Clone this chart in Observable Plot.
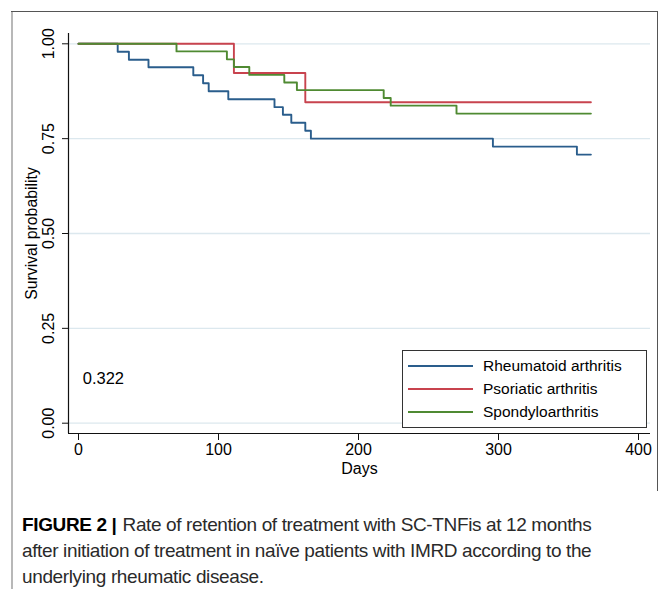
<!DOCTYPE html>
<html><head><meta charset="utf-8">
<script src="https://cdn.jsdelivr.net/npm/d3@7"></script>
<script src="https://cdn.jsdelivr.net/npm/@observablehq/plot@0.6"></script>
<style>
body{margin:0;background:#fff;}
#wrap{position:relative;width:663px;height:589px;overflow:hidden;font-family:"Liberation Sans",Arial,sans-serif;background:#fff;}
#chart{position:absolute;left:0;top:0;}
#frameLeft{position:absolute;left:11px;top:11px;width:2px;height:578px;background:#b8b8b8;}
#frameTop{position:absolute;left:11px;top:11px;width:647px;height:1px;background:#555;}
#frameRight{position:absolute;left:657px;top:11px;width:1px;height:480px;background:#555;}
#legend{position:absolute;left:402px;top:350px;width:243px;height:76px;border:1px solid #333;background:#fff;}
.lrow{position:absolute;left:0;height:22px;display:flex;align-items:center;}
.lline{width:65px;height:1.5px;margin-left:5px;margin-right:10px;}
.ltext{font-size:15.5px;color:#000;}
#caption{position:absolute;left:22px;top:512px;width:636px;font-family:"Liberation Sans",Arial,sans-serif;font-size:19px;letter-spacing:-0.37px;line-height:26px;color:#2a2a2a;white-space:nowrap;}
#caption b{color:#000;display:inline-block;margin-right:6px;}
</style></head><body>
<div id="wrap">
  <div id="chart"></div>
  <div id="legend"></div>
  <div id="frameLeft"></div><div id="frameTop"></div><div id="frameRight"></div>
  <div id="caption"><b>FIGURE 2 |</b>Rate of retention of treatment with SC-TNFis at 12 months<br>after initiation of treatment in naïve patients with IMRD according to the<br>underlying rheumatic disease.</div>
</div>
<script>
const groups = ["Rheumatoid arthritis", "Psoriatic arthritis", "Spondyloarthritis"];
const colors = ["#2a5d8c", "#c8434e", "#4f8a32"];

const raDays  = [0, 28, 36, 50, 82, 89, 93, 107, 140, 146, 152, 162, 166, 296, 356, 366];
const raSurv  = [1, 0.979, 0.958, 0.938, 0.917, 0.896, 0.875, 0.854, 0.833, 0.813, 0.792, 0.771, 0.750, 0.729, 0.708, 0.708];
const psaDays = [0, 111, 162, 366];
const psaSurv = [1, 0.923, 0.846, 0.846];
const spaDays = [0, 70, 106, 111, 122, 147, 156, 218, 223, 270, 366];
const spaSurv = [1, 0.980, 0.959, 0.939, 0.918, 0.898, 0.878, 0.857, 0.837, 0.816, 0.816];

const xTicks = [0, 100, 200, 300, 400];
const yTicks = [0, 0.25, 0.5, 0.75, 1];
const pValueText = "0.322";
const pValueDay = 3;
const pValueSurv = 0.118;

const series = [
  {name: groups[0], days: raDays, surv: raSurv},
  {name: groups[1], days: psaDays, surv: psaSurv},
  {name: groups[2], days: spaDays, surv: spaSurv}
];
const rows = series.flatMap(s => s.days.map((d, i) => ({group: s.name, day: d, surv: s.surv[i]})));

const fmt = d3.format(".2f");
const plot = Plot.plot({
  width: 663,
  height: 482,
  marginLeft: 68, marginRight: 13, marginTop: 33, marginBottom: 49,
  x: {domain: [0, 400], range: [78, 638]},
  y: {domain: [0, 1], range: [422.7, 43.3]},
  color: {domain: groups, range: colors},
  style: {fontFamily: "'Liberation Sans', Arial, sans-serif", fontSize: "16px", color: "#000", background: "transparent"},
  marks: [
    Plot.gridY(yTicks, {stroke: "#dce8ee", strokeOpacity: 1, strokeWidth: 1.3}),
    Plot.ruleY([0], {dy: 10.3, stroke: "#111", strokeWidth: 1.2}),
    Plot.ruleX([0], {dx: -10, stroke: "#111", strokeWidth: 1.2}),
    Plot.axisX(xTicks, {tickSize: 7, tickPadding: 3, fontSize: 16, label: null, stroke: "#111"}),
    Plot.axisY(yTicks, {tickSize: 6, tickFormat: () => "", label: null, stroke: "#111"}),
    Plot.text(yTicks, {y: d => d, text: d => fmt(d), frameAnchor: "left", textAnchor: "middle", dx: -20, rotate: -90, fontSize: 16}),
    Plot.text(["Survival probability"], {frameAnchor: "left", textAnchor: "middle", dx: -37, rotate: -90, fontSize: 15.8}),
    Plot.text(["Days"], {frameAnchor: "bottom", textAnchor: "middle", dy: 40, fontSize: 16}),
    Plot.line(rows, {x: "day", y: "surv", z: "group", stroke: "group", curve: "step-after", strokeWidth: 1.9}),
    Plot.text([{t: pValueText, x: pValueDay, y: pValueSurv}], {x: "x", y: "y", text: "t", textAnchor: "start", fontSize: 16.5})
  ]
});
document.getElementById("chart").appendChild(plot);

const legend = document.getElementById("legend");
groups.forEach((g, i) => {
  const row = document.createElement("div");
  row.className = "lrow";
  row.style.top = (4 + i * 23) + "px";
  const ln = document.createElement("div");
  ln.className = "lline";
  ln.style.background = colors[i];
  const tx = document.createElement("span");
  tx.className = "ltext";
  tx.textContent = g;
  row.appendChild(ln); row.appendChild(tx);
  legend.appendChild(row);
});
</script>
</body></html>
